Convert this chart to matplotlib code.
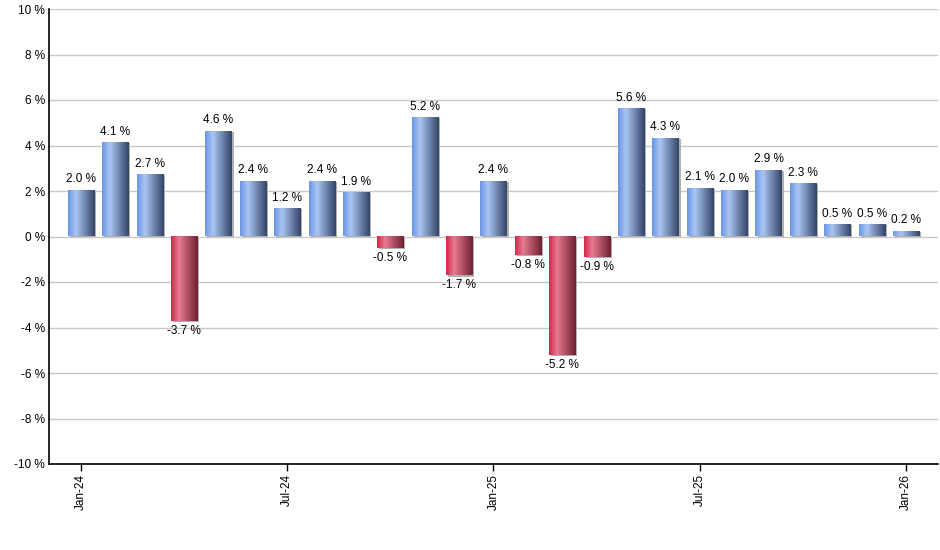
import matplotlib
matplotlib.use("Agg")
import matplotlib.pyplot as plt
import numpy as np
from matplotlib.colors import LinearSegmentedColormap
from matplotlib.patches import Rectangle

months = ["Jan-24", "Feb-24", "Mar-24", "Apr-24", "May-24", "Jun-24", "Jul-24", "Aug-24",
          "Sep-24", "Oct-24", "Nov-24", "Dec-24", "Jan-25", "Feb-25", "Mar-25", "Apr-25",
          "May-25", "Jun-25", "Jul-25", "Aug-25", "Sep-25", "Oct-25", "Nov-25", "Dec-25", "Jan-26"]
values = [2.0, 4.1, 2.7, -3.7, 4.6, 2.4, 1.2, 2.4, 1.9, -0.5, 5.2, -1.7, 2.4, -0.8, -5.2, -0.9,
          5.6, 4.3, 2.1, 2.0, 2.9, 2.3, 0.5, 0.5, 0.2]
tick_labels = ["Jan-24", "Jul-24", "Jan-25", "Jul-25", "Jan-26"]
y_ticks = [-10, -8, -6, -4, -2, 0, 2, 4, 6, 8, 10]

plt.rcParams['font.family'] = ['Liberation Sans', 'DejaVu Sans']

fig = plt.figure(figsize=(9.4, 5.5), dpi=100)
ax = fig.add_axes([49/940, (550-464)/550, (938-49)/940, (464-9)/550])

blue_cmap = LinearSegmentedColormap.from_list(
    "b", [(0.0, "#6a95e4"), (0.3, "#aac6f3"), (1.0, "#324366")])
red_cmap = LinearSegmentedColormap.from_list(
    "r", [(0.0, "#d6234a"), (0.3, "#e87a92"), (1.0, "#6e1f31")])
grad = np.linspace(0, 1, 256).reshape(1, -1)

x = np.arange(len(values))
width = 0.76
bars = ax.bar(x, values, width=width, color="none", edgecolor="none", zorder=3)
for b, v in zip(bars, values):
    x0 = b.get_x()
    y0, y1 = (0, v) if v >= 0 else (v, 0)
    # shadow
    ax.add_patch(Rectangle((x0 + 0.06, y0 - (0.06 if v < 0 else 0)), width, y1 - y0,
                           facecolor="#b0b0b0", edgecolor="none", zorder=2.5))
    ax.imshow(grad, cmap=blue_cmap if v >= 0 else red_cmap, aspect="auto",
              extent=(x0, x0 + width, y0, y1), zorder=3, interpolation="bilinear")
    if v >= 0:
        ax.annotate(f"{v:.1f} %", (b.get_x() + width / 2, v), xytext=(0, 4),
                    textcoords="offset points", ha="center", va="bottom", fontsize=8.5)
    else:
        ax.annotate(f"{v:.1f} %", (b.get_x() + width / 2, v), xytext=(0, -3),
                    textcoords="offset points", ha="center", va="top", fontsize=8.5)

ax.set_xlim(-0.93, len(values) - 1 + 0.93)
ax.set_ylim(-10, 10)
ax.set_yticks(y_ticks)
ax.set_yticklabels([f"{t} %" for t in y_ticks], fontsize=8.5)
ax.set_xticks([months.index(t) for t in tick_labels])
ax.set_xticklabels(tick_labels, rotation=90, fontsize=8.5)
ax.tick_params(axis="y", length=0, pad=3)
ax.tick_params(axis="x", length=5, width=1, pad=2)
ax.grid(axis="y", color="#c8c8c8", linewidth=1, zorder=0)
ax.set_axisbelow(True)
for s in ["top", "right"]:
    ax.spines[s].set_visible(False)
ax.spines["left"].set_linewidth(1.2)
ax.spines["bottom"].set_linewidth(1.2)

fig.savefig("out.png", dpi=100)
